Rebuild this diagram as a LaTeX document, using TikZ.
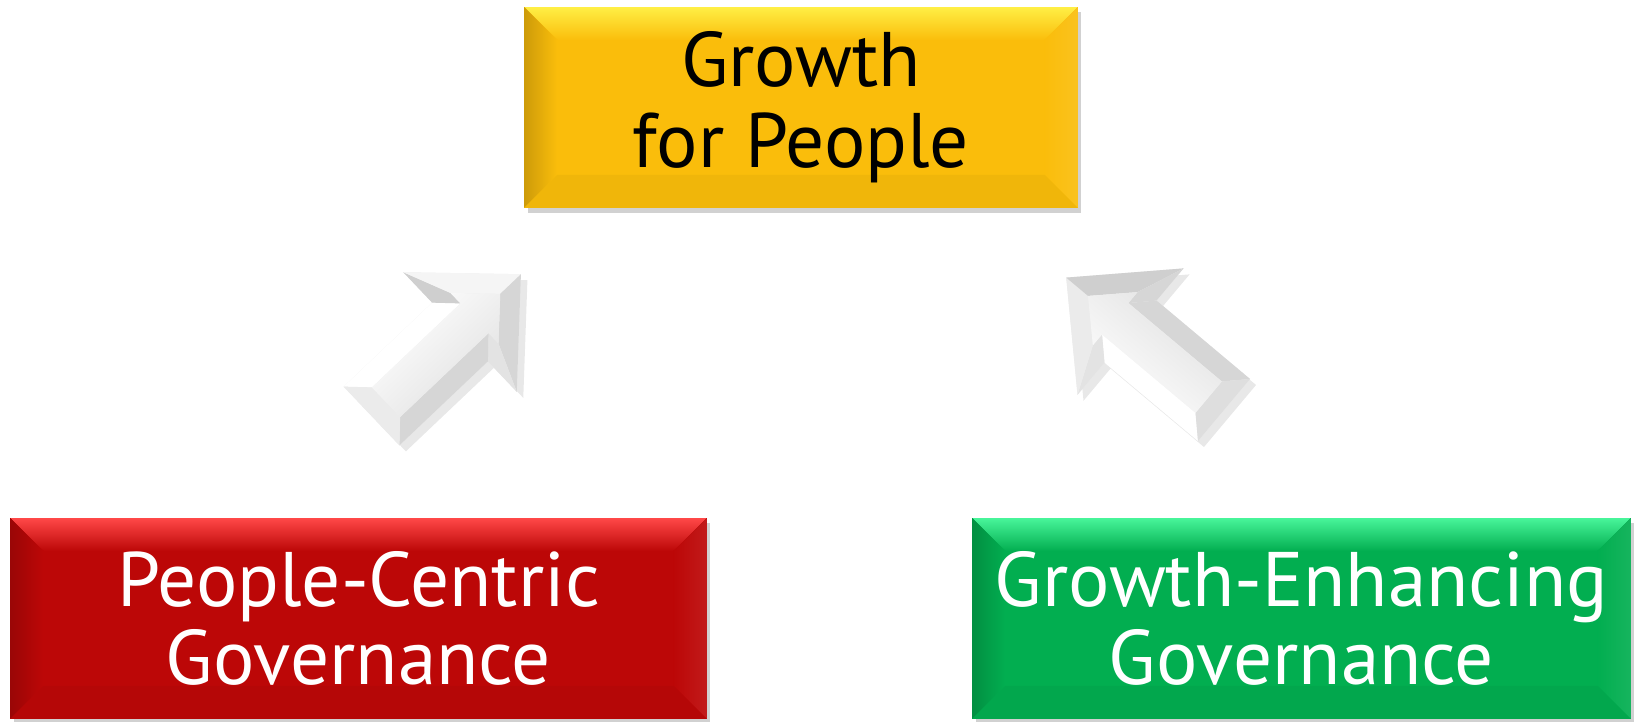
\documentclass[tikz,border=0pt]{standalone}
\usepackage{fontspec}
\setmainfont{PT Sans}
\usetikzlibrary{positioning,calc,shadows}

\definecolor{goldface}{HTML}{FABD0B}
\definecolor{goldhigh}{HTML}{FFEF45}
\definecolor{redface}{HTML}{BC0707}
\definecolor{redhigh}{HTML}{FF4848}
\definecolor{greenface}{HTML}{02AE50}
\definecolor{greenhigh}{HTML}{48F59A}

% bevel facets drawn inside a box node (#1 face colour, #2 highlight)
\def\bv{33}
\newcommand\bevelfacets[2]{%
  \coordinate (nw) at (path picture bounding box.north west);
  \coordinate (ne) at (path picture bounding box.north east);
  \coordinate (sw) at (path picture bounding box.south west);
  \coordinate (se) at (path picture bounding box.south east);
  \fill[top color=#2, bottom color=#1]
    (nw) -- (ne) -- ($(ne)+(-\bv,\bv)$) -- ($(nw)+(\bv,\bv)$) -- cycle;
  \fill[left color=#1!82!black, right color=#1]
    (nw) -- ($(nw)+(\bv,\bv)$) -- ($(sw)+(\bv,-\bv)$) -- (sw) -- cycle;
  \fill[left color=#1, right color=#1!92!white]
    (ne) -- ($(ne)+(-\bv,\bv)$) -- ($(se)+(-\bv,-\bv)$) -- (se) -- cycle;
  \fill[#1!96!black]
    (sw) -- ($(sw)+(\bv,-\bv)$) -- ($(se)+(-\bv,-\bv)$) -- (se) -- cycle;
}

% outline of a block arrow along the local x axis (tail at origin)
\newcommand\arrowpoints{%
  \coordinate (A) at (0,-40.5);   \coordinate (Ai) at (20,-20.5);
  \coordinate (B) at (122,-40.5); \coordinate (Bi) at (142,-20.5);
  \coordinate (C) at (122,-82.5); \coordinate (Ci) at (142,-34.8);
  \coordinate (D) at (206,0);     \coordinate (Di) at (177.5,0);
  \coordinate (E) at (122,82.5);  \coordinate (Ei) at (142,34.8);
  \coordinate (F) at (122,40.5);  \coordinate (Fi) at (142,20.5);
  \coordinate (G) at (0,40.5);    \coordinate (Gi) at (20,20.5);
}
\newcommand\arrowoutline{(A) -- (B) -- (C) -- (D) -- (E) -- (F) -- (G) -- cycle}

\begin{document}
\begin{tikzpicture}[x=0.02cm, y=-0.02cm,
    box/.style 2 args={minimum height=4.02cm, inner sep=0pt, align=center,
      fill=#1, path picture={\bevelfacets{#1}{#2}},
      drop shadow={shadow xshift=2pt, shadow yshift=-3pt, opacity=.3, fill=black!60}},
    bigtext/.style={font=\fontsize{44}{44}\selectfont, text=white},
    arrowshadow/.style={black!9}]
  \useasboundingbox (0,0) rectangle (1634,721);

  % the three boxes
  \node[box={goldface}{goldhigh}, minimum width=11.08cm,
        font=\fontsize{44}{46}\selectfont] (growth) at (801,107.5) {Growth\\for People};
  \node[box={redface}{redhigh}, minimum width=13.94cm, bigtext] (people) at (358.5,618.5)
        {People-Centric\\Governance};
  \node[box={greenface}{greenhigh}, minimum width=13.18cm, bigtext] (enhance) at (1301.5,618.5)
        {Growth-Enhancing\\Governance};

  % left arrow, up to the right
  \begin{scope}[shift={(378,422)}, rotate=43.5]
    \arrowpoints
    \fill[arrowshadow] \arrowoutline;
  \end{scope}
  \begin{scope}[shift={(371.5,416)}, rotate=43.5]
    \arrowpoints
    \fill[gray!12] \arrowoutline;
    \foreach \p/\q/\c in {A/B/white, B/C/gray!38, C/D/gray!8, D/E/gray!32,
                          E/F/gray!22, F/G/gray!32, G/A/gray!16}
      \fill[\c] (\p) -- (\q) -- (\q i) -- (\p i) -- cycle;
    \shade[top color=white, bottom color=gray!24, shading angle=43.5]
      (Ai) -- (Bi) -- (Ci) -- (Di) -- (Ei) -- (Fi) -- (Gi) -- cycle;
  \end{scope}

  % right arrow, up to the left
  \begin{scope}[shift={(1230,416)}, rotate=140]
    \arrowpoints
    \fill[arrowshadow] \arrowoutline;
  \end{scope}
  \begin{scope}[shift={(1224,410)}, rotate=140]
    \arrowpoints
    \fill[gray!12] \arrowoutline;
    \foreach \p/\q/\c in {A/B/white, B/C/gray!22, C/D/gray!16, D/E/gray!38,
                          E/F/gray!32, F/G/gray!32, G/A/gray!26}
      \fill[\c] (\p) -- (\q) -- (\q i) -- (\p i) -- cycle;
    \shade[top color=white, bottom color=gray!24, shading angle=140]
      (Ai) -- (Bi) -- (Ci) -- (Di) -- (Ei) -- (Fi) -- (Gi) -- cycle;
  \end{scope}
\end{tikzpicture}
\end{document}
